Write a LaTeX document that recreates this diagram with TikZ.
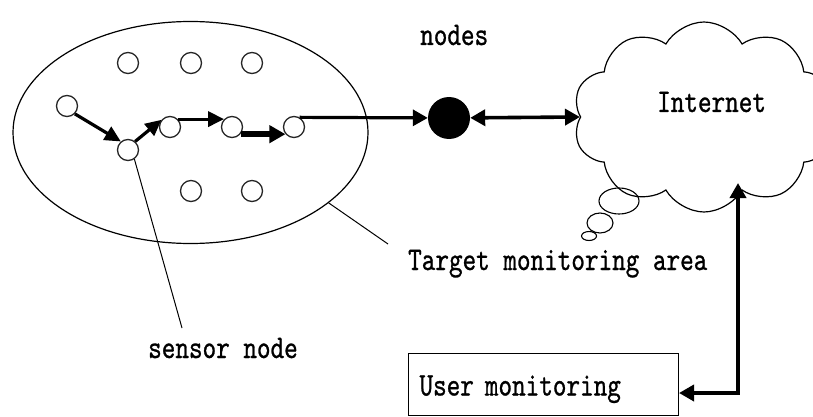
\documentclass[tikz,border=0pt]{standalone}
\usepackage{fontspec}
\usetikzlibrary{arrows.meta,shapes.geometric,shapes.symbols}
\newfontfamily\labfont[FakeStretch=0.785,FakeBold=0.8]{lmmono10-regular.otf}

\begin{document}
\begin{tikzpicture}[x=1pt,y=-1pt,
  sensorcirc/.style={circle,draw=black!85,line width=1.3pt,minimum size=21pt,inner sep=0pt},
  lbl/.style={font=\labfont\fontsize{33}{36}\selectfont,inner sep=0pt,anchor=base west},
  hop/.style={line width=3.2pt,-{Triangle[length=16pt,width=15pt]}},
  hopwide/.style={line width=5.5pt,-{Triangle[length=16pt,width=17pt]}},
  trunk/.style={line width=3.2pt,-{Triangle[length=15pt,width=16pt]}},
  duplex/.style={line width=3.6pt,{Triangle[length=15pt,width=16pt]}-{Triangle[length=15pt,width=16pt]}},
  leader/.style={line width=1pt},
  bubble/.style={ellipse,draw,line width=1.1pt,inner sep=0pt}]

\useasboundingbox (0,0) rectangle (813,417);

% target monitoring area with its sensor field
\node[ellipse,draw,line width=1.2pt,minimum width=355pt,minimum height=222pt,inner sep=0pt] (area) at (190.5,132.5) {};

\node[sensorcirc] (t1) at (128,63) {};
\node[sensorcirc] (t2) at (191,63) {};
\node[sensorcirc] (t3) at (252,63) {};
\node[sensorcirc] (s1) at (67,106) {};
\node[sensorcirc] (s2) at (128,150) {};
\node[sensorcirc] (s3) at (170,127) {};
\node[sensorcirc] (s4) at (232,127) {};
\node[sensorcirc] (s5) at (294,127) {};
\node[sensorcirc] (b1) at (191,191) {};
\node[sensorcirc] (b2) at (252,191) {};

% multi-hop route through the field
\draw[hop] (s1.-45) -- (s2.130);
\draw[hop] (s2.50) -- (s3.140);
\draw[hop] (s3.45) -- (s4.135);
\draw[hopwide] (s4.-40) -- (s5.-140);

% sink node and the Internet
\node[circle,fill=black,minimum size=42pt,inner sep=0pt] (hub) at (449,118) {};
\node[lbl] (hubtxt) at (420,45) {nodes};

\node[cloud,draw,line width=1.2pt,cloud puffs=10,cloud puff arc=120,
      minimum width=262pt,minimum height=190pt,inner sep=0pt] (net) at (704,117) {};
\node[lbl] (nettxt) at (657,112) {Internet};

\node[bubble,minimum width=40pt,minimum height=26pt] (bub1) at (619,201) {};
\node[bubble,minimum width=26pt,minimum height=20pt] (bub2) at (600,223) {};
\node[bubble,minimum width=15pt,minimum height=9pt] (bub3) at (589,236) {};

\draw[trunk] (s5.60) -- (hub);
\draw[duplex] (hub) -- (net.west);

% labels with their leader lines
\node[lbl] (arealbl) at (408,270) {Target monitoring area};
\coordinate (areatip) at (388,244);
\draw[leader] (area.-27) -- (areatip);

\node[lbl] (sensorlbl) at (148,358) {sensor node};
\coordinate (sensortip) at (182,328);
\draw[leader] (s2.-55) -- (sensortip);

% user terminal
\node[draw,line width=1pt,anchor=north west,minimum width=270pt,minimum height=62pt,
      text width=248pt,inner xsep=11pt,inner ysep=0pt,align=left,
      font=\labfont\fontsize{33}{36}\selectfont,text height=29pt,text depth=7pt] (user) at (408,353) {User monitoring};

\coordinate (uptip) at (738,183);
\coordinate (turn) at (738,393);
\draw[duplex] (uptip) -- (turn) -- (turn -| user.east);
\end{tikzpicture}
\end{document}
